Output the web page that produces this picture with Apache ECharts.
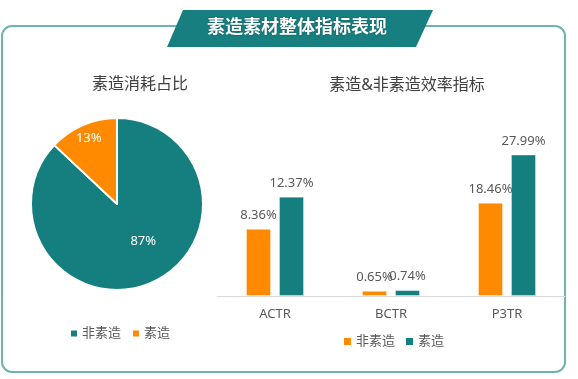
<!DOCTYPE html>
<html>
<head>
<meta charset="utf-8">
<script src="https://cdn.jsdelivr.net/npm/echarts@6/dist/echarts.min.js"></script>
<style>
  html, body { margin: 0; padding: 0; background: #fff; }
  #main { width: 578px; height: 379px; }
</style>
</head>
<body>
<div id="main"></div>
<script>
// 素造消耗占比
var pieNames = ["非素造", "素造"];
var pieValues = [87, 13];

// 效率指标
var categories = ["ACTR", "BCTR", "P3TR"];
var feiSuzao = [8.36, 0.65, 18.46];
var suzao = [12.37, 0.74, 27.99];
// 原图 P3TR 用的是另一套比例，放到第二根 y 轴上
var axisOf = [0, 0, 1];

var teal = "#157F80";
var orange = "#FF8A00";
var font = "'Noto Sans', 'Noto Sans CJK SC', sans-serif";

function pick(arr, idx) {
  return arr.map(function (v, i) {
    return axisOf[i] === idx ? v : "-";
  });
}

var chartDom = echarts.init(document.getElementById("main"));

var barLabel = {
  show: true,
  position: "top",
  distance: 7,
  color: "#595959",
  fontSize: 13,
  formatter: "{c}%",
};

function barSeries(name, data, color, idx) {
  return {
    name: name,
    type: "bar",
    xAxisIndex: idx,
    yAxisIndex: idx,
    barWidth: 25,
    barGap: "32%",
    itemStyle: { color: color, borderColor: "rgba(255,255,255,0.35)", borderWidth: 1 },
    label: barLabel,
    data: data,
  };
}

var option = {
  animation: false,
  textStyle: { fontFamily: font },
  graphic: [
    {
      type: "rect",
      shape: { x: 2, y: 26, width: 563, height: 346, r: 10 },
      style: { fill: "none", stroke: "#6DB3B3", lineWidth: 2 },
      z: 0,
    },
    {
      type: "polygon",
      shape: { points: [[183, 10], [433, 10], [416, 47], [167, 47]] },
      style: { fill: "#177F7F" },
      z: 1,
    },
    {
      type: "text",
      x: 297,
      y: 28,
      style: {
        text: "素造素材整体指标表现",
        fill: "#fff",
        fontSize: 18,
        fontWeight: "bold",
        fontFamily: font,
        align: "center",
        verticalAlign: "middle",
        textShadowColor: "rgba(0,0,0,0.35)",
        textShadowBlur: 2,
      },
      z: 2,
    },
  ],
  title: [
    {
      text: "素造消耗占比",
      left: 140,
      top: 76,
      padding: 0,
      textAlign: "center",
      textStyle: { fontSize: 16, fontWeight: "normal", color: "#404040", fontFamily: font },
    },
    {
      text: "素造&非素造效率指标",
      left: 407,
      top: 77,
      padding: 0,
      textAlign: "center",
      textStyle: { fontSize: 16, fontWeight: "normal", color: "#404040", fontFamily: font },
    },
  ],
  legend: [
    {
      left: 71,
      top: 327,
      padding: 0,
      itemWidth: 6,
      itemHeight: 6,
      itemGap: 12,
      icon: "rect",
      textStyle: { color: "#595959", fontSize: 13 },
      data: [
        { name: pieNames[0], itemStyle: { color: teal, borderWidth: 0 } },
        { name: pieNames[1], itemStyle: { color: orange, borderWidth: 0 } },
      ],
    },
    {
      left: 344,
      top: 335,
      padding: 0,
      itemWidth: 7,
      itemHeight: 7,
      itemGap: 11,
      icon: "rect",
      textStyle: { color: "#595959", fontSize: 13 },
      data: [
        { name: "非素造", itemStyle: { color: orange, borderWidth: 0 } },
        { name: "素造", itemStyle: { color: teal, borderWidth: 0 } },
      ],
    },
  ],
  grid: { left: 217, right: 13, top: 100, bottom: 83 },
  xAxis: [
    {
      type: "category",
      data: categories,
      axisTick: { show: false },
      axisLine: { lineStyle: { color: "#D9D9D9", width: 1 } },
      axisLabel: { color: "#595959", fontSize: 13, margin: 12 },
    },
    {
      type: "category",
      data: categories,
      show: false,
    },
  ],
  yAxis: [
    { type: "value", min: 0, max: 24.4, show: false, splitLine: { show: false } },
    { type: "value", min: 0, max: 38.8, show: false, splitLine: { show: false } },
  ],
  series: [
    {
      name: "素造消耗占比",
      type: "pie",
      center: [117, 204],
      radius: 86,
      startAngle: 90,
      clockwise: true,
      label: {
        show: true,
        position: "inside",
        color: "#fff",
        fontSize: 13,
        formatter: "{c}%",
      },
      labelLine: { show: false },
      labelLayout: function (p) {
        return p.dataIndex === 0 ? { dx: 8, dy: -5 } : { dx: -10, dy: -23 };
      },
      itemStyle: { borderColor: "#fff", borderWidth: 2 },
      emphasis: { scale: false },
      data: pieNames.map(function (n, i) {
        return { name: n, value: pieValues[i], itemStyle: { color: i === 0 ? teal : orange } };
      }),
    },
    barSeries("非素造", pick(feiSuzao, 0), orange, 0),
    barSeries("素造", pick(suzao, 0), teal, 0),
    barSeries("非素造", pick(feiSuzao, 1), orange, 1),
    barSeries("素造", pick(suzao, 1), teal, 1),
  ],
};

chartDom.setOption(option);
</script>
</body>
</html>
